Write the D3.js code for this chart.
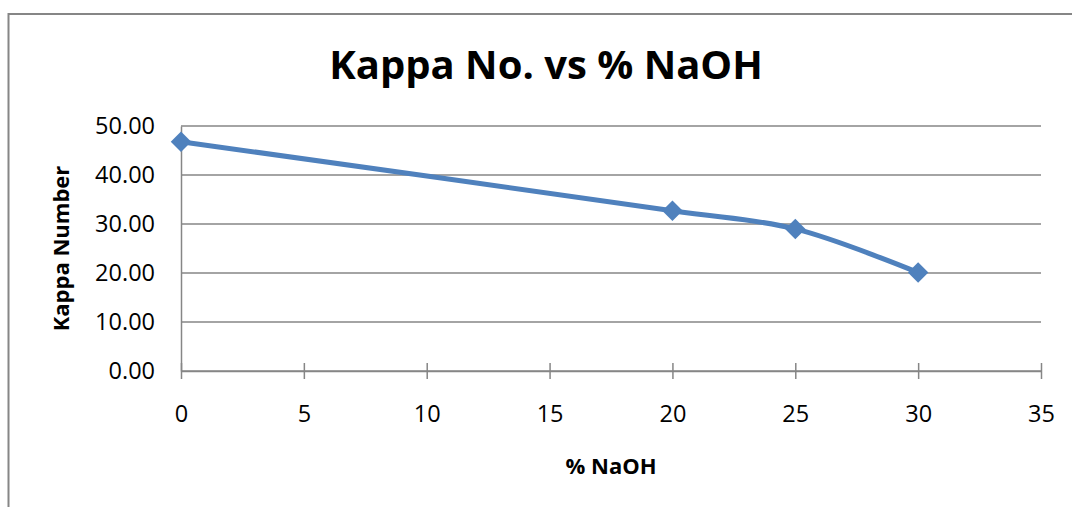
<!DOCTYPE html>
<html>
<head>
<meta charset="utf-8">
<script src="https://cdn.jsdelivr.net/npm/d3@7"></script>
<style>
  html, body { margin: 0; padding: 0; background: #fff; }
  svg { display: block; }
  text { font-family: "Open Sans", "Liberation Sans", sans-serif; fill: #000; }
</style>
</head>
<body>
<svg id="chart" width="1072" height="507"></svg>
<script>
// Kappa number measured at each NaOH charge
const naohPercent = [0, 20, 25, 30];
const kappaNumber = [46.8, 32.7, 29.0, 20.1];
const xTicks = [0, 5, 10, 15, 20, 25, 30, 35];
const yTicks = [0, 10, 20, 30, 40, 50];

const titleText = "Kappa No. vs % NaOH";
const xTitle = "% NaOH";
const yTitle = "Kappa Number";

const svg = d3.select("#chart");
const W = 1072, H = 507;
const plot = { left: 181, right: 1041, top: 126, bottom: 371 };
const gridColor = "#868686";
const seriesColor = "#4F81BD";

// outer chart frame (extends past the visible window on the right and bottom)
svg.append("rect")
  .attr("x", 8.5).attr("y", 14)
  .attr("width", W + 20).attr("height", H + 20)
  .attr("fill", "none")
  .attr("stroke", gridColor)
  .attr("stroke-width", 2);

const x = d3.scaleLinear().domain([0, 35]).range([plot.left, plot.right]);
const y = d3.scaleLinear().domain([0, 50]).range([plot.bottom, plot.top]);

// horizontal gridlines
svg.append("g")
  .selectAll("line")
  .data(yTicks)
  .join("line")
  .attr("x1", plot.left).attr("x2", plot.right)
  .attr("y1", d => y(d)).attr("y2", d => y(d))
  .attr("stroke", gridColor)
  .attr("stroke-width", 1.5);

// y axis: line plus labels, no tick marks
const yAxis = svg.append("g")
  .attr("transform", `translate(${plot.left},0)`)
  .call(d3.axisLeft(y).tickValues(yTicks).tickSize(0).tickPadding(26)
    .tickFormat(d3.format(".2f")));
yAxis.select(".domain").attr("stroke", gridColor).attr("stroke-width", 1.5);
yAxis.selectAll("text")
  .attr("font-size", 23.5)
  .attr("font-family", "Open Sans")
  .attr("fill", "#000");

// x axis: cross tick marks
const xAxis = svg.append("g")
  .attr("transform", `translate(0,${plot.bottom})`)
  .call(d3.axisBottom(x).tickValues(xTicks).tickSize(0).tickPadding(51)
    .tickFormat(d3.format("d")));
xAxis.select(".domain").attr("stroke", gridColor).attr("stroke-width", 1.5);
xAxis.selectAll(".tick line")
  .attr("y1", -8).attr("y2", 8)
  .attr("stroke", gridColor)
  .attr("stroke-width", 1.5);
xAxis.selectAll("text")
  .attr("font-size", 23.5)
  .attr("font-family", "Open Sans")
  .attr("fill", "#000")
  .attr("dy", "0");

// title
svg.append("text")
  .attr("x", 546).attr("y", 79)
  .attr("text-anchor", "middle")
  .attr("font-size", 40)
  .attr("font-weight", "bold")
  .text(titleText);

// axis titles
svg.append("text")
  .attr("x", (plot.left + plot.right) / 2).attr("y", 474)
  .attr("text-anchor", "middle")
  .attr("font-size", 22)
  .attr("font-weight", "bold")
  .text(xTitle);

svg.append("text")
  .attr("transform", `translate(69,${(plot.top + plot.bottom) / 2}) rotate(-90)`)
  .attr("text-anchor", "middle")
  .attr("font-size", 22)
  .attr("font-weight", "bold")
  .text(yTitle);

// smoothed series line
const points = naohPercent.map((v, i) => [v, kappaNumber[i]]);
const line = d3.line()
  .x(d => x(d[0]))
  .y(d => y(d[1]))
  .curve(d3.curveCatmullRom.alpha(0.5));

svg.append("path")
  .datum(points)
  .attr("d", line)
  .attr("fill", "none")
  .attr("stroke", seriesColor)
  .attr("stroke-width", 5)
  .attr("stroke-linejoin", "round")
  .attr("stroke-linecap", "round");

// diamond markers
const diamond = d3.symbol().type(d3.symbolSquare).size(210);
svg.append("g")
  .selectAll("path")
  .data(points)
  .join("path")
  .attr("d", diamond)
  .attr("transform", d => `translate(${x(d[0])},${y(d[1])}) rotate(45)`)
  .attr("fill", seriesColor);
</script>
</body>
</html>
